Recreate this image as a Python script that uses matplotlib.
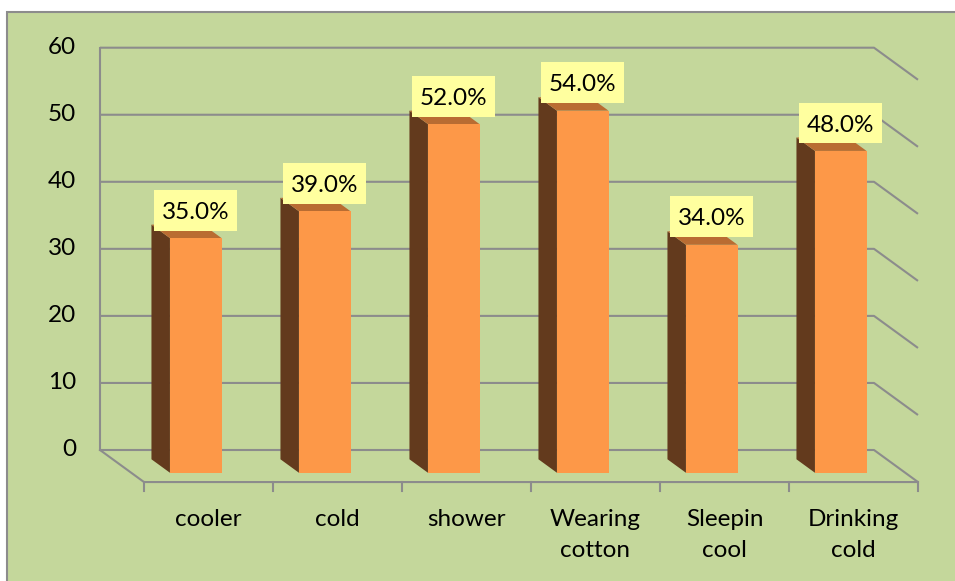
import matplotlib.pyplot as plt
from matplotlib.patches import Polygon, Rectangle

plt.rcParams['font.family'] = ['Lato', 'DejaVu Sans']

categories = ["cooler", "cold", "shower", "Wearing\ncotton", "Sleepin\ncool", "Drinking\ncold"]
values = [35, 39, 52, 54, 34, 48]
yticks = [0, 10, 20, 30, 40, 50, 60]

# colours
bg = "#C4D79B"
grid_c = "#8C8C8C"
front_c = "#FD9848"
side_c = "#633A1D"
top_c = "#B96C32"
label_bg = "#FFFF9F"

# oblique depth offset (full floor depth) in data units
DX = 0.341
DY = -4.78
d0, d1 = 0.29, 0.71      # bar depth span
bar_w = 0.40
box_w, box_h = 0.643, 6.1   # value label box size in data units

fig = plt.figure(figsize=(9.55, 5.81), dpi=100)
fig.patch.set_facecolor("white")

ax = fig.add_axes([0, 0, 1, 1])
ax.set_axis_off()
ax.patch.set_alpha(0)
# 1 category = 129 px, 1 value unit = 6.705 px, origin of back wall at (100, 450) px
ax.set_xlim(-100 / 129, 855 / 129)
ax.set_ylim(-131 / 6.705, 450 / 6.705)

frame = Rectangle((7.3 / 955, -0.02), 1.05, (581 - 11.7) / 581 + 0.02,
                  transform=fig.transFigure, facecolor=bg,
                  edgecolor=grid_c, lw=1.5, zorder=0, clip_on=False)
ax.add_patch(frame)

n = len(categories)
lw = 1.5

# back wall gridlines + right side slants
for g in yticks:
    ax.plot([0, n, n + DX], [g, g, g + DY], color=grid_c, lw=lw, zorder=1,
            solid_capstyle="butt")
    ax.text(-0.186, g, str(g), ha="right", va="center", fontsize=17.5)
# left wall edge and floor
ax.plot([0, 0], [0, yticks[-1]], color=grid_c, lw=lw, zorder=1)
ax.plot([0, DX, n + DX], [0, DY, DY], color=grid_c, lw=lw, zorder=1)
for k in range(n + 1):
    ax.plot([k + DX, k + DX], [DY, DY - 1.35], color=grid_c, lw=lw, zorder=1)

for i, (cat, v) in enumerate(zip(categories, values)):
    x0 = i + 0.5 - bar_w / 2
    x1 = x0 + bar_w
    side = [(x0 + d0 * DX, d0 * DY), (x0 + d1 * DX, d1 * DY),
            (x0 + d1 * DX, v + d1 * DY), (x0 + d0 * DX, v + d0 * DY)]
    top = [(x0 + d0 * DX, v + d0 * DY), (x1 + d0 * DX, v + d0 * DY),
           (x1 + d1 * DX, v + d1 * DY), (x0 + d1 * DX, v + d1 * DY)]
    front = [(x0 + d1 * DX, d1 * DY), (x1 + d1 * DX, d1 * DY),
             (x1 + d1 * DX, v + d1 * DY), (x0 + d1 * DX, v + d1 * DY)]
    ax.add_patch(Polygon(side, closed=True, facecolor=side_c, edgecolor="none", zorder=2))
    ax.add_patch(Polygon(top, closed=True, facecolor=top_c, edgecolor="none", zorder=2))
    ax.add_patch(Polygon(front, closed=True, facecolor=front_c, edgecolor="none", zorder=3))

    lx = i + 0.5 + d1 * DX
    ly = v + d0 * DY + 2.15
    ax.add_patch(Rectangle((lx - box_w / 2, ly - box_h / 2), box_w, box_h,
                           facecolor=label_bg, edgecolor="none", zorder=4))
    ax.text(lx, ly, f"{v:.1f}%", ha="center", va="center_baseline",
            fontsize=17.5, zorder=5)

    ax.text(i + 0.5 + DX, -8.8, cat, ha="center", va="top", fontsize=17.5,
            linespacing=1.58)

fig.savefig("out.png", dpi=100, facecolor="white")
